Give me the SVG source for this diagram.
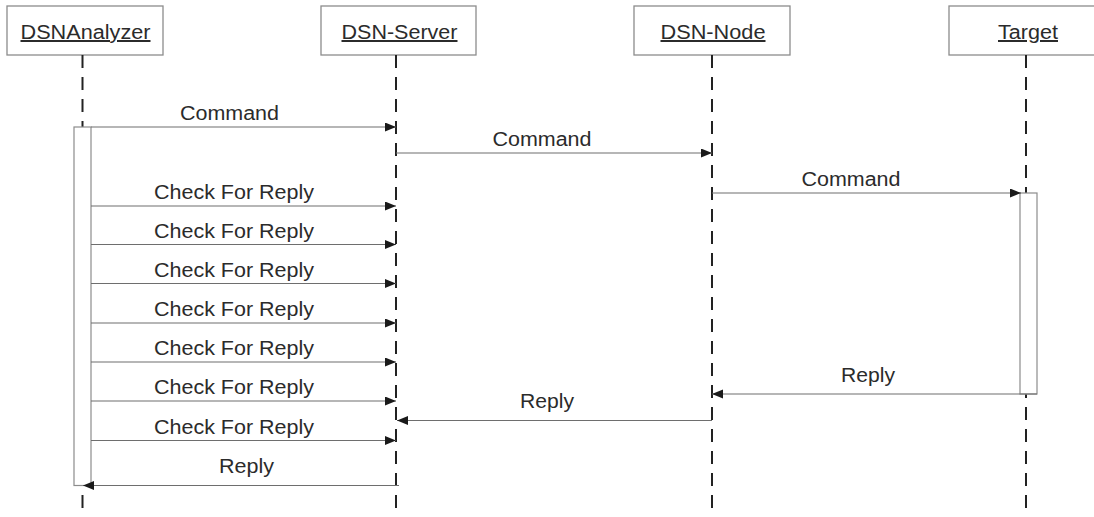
<svg xmlns="http://www.w3.org/2000/svg" width="1094" height="517" viewBox="0 0 1094 517">
<style>
.box{fill:#fff;stroke:#8c8c8c;stroke-width:1.3}
.life{stroke:#222;stroke-width:2;stroke-dasharray:13 9;fill:none}
.bar{fill:#fff;stroke:#8c8c8c;stroke-width:1.2}
.title{font-family:"Liberation Sans",Arial,sans-serif;font-size:20px;fill:#2b2b2b;text-anchor:middle;text-decoration:underline}
.lbl{font-family:"Liberation Sans",Arial,sans-serif;font-size:20px;fill:#2b2b2b;text-anchor:middle}
.msg{stroke:#6e6e6e;stroke-width:1.2;fill:none;marker-end:url(#ah)}
</style>
<defs>
<marker id="ah" markerUnits="userSpaceOnUse" markerWidth="12" markerHeight="10" refX="11" refY="4.5" orient="auto">
<path d="M0,0 L11,4.5 L0,9 z" fill="#1a1a1a"/>
</marker>
</defs>
<rect width="1094" height="517" fill="#fff"/>
<g id="DSNAnalyzer">
<rect class="box" x="7" y="6" width="156" height="49"/>
<text class="title" x="85.5" y="39" textLength="130" lengthAdjust="spacingAndGlyphs">DSNAnalyzer</text>
<line class="life" x1="82.5" y1="55" x2="82.5" y2="517"/>
<rect class="bar" x="74" y="127" width="17" height="358.5"/>
</g>
<g id="DSN-Server">
<rect class="box" x="321" y="6" width="155" height="49"/>
<text class="title" x="399.5" y="39" textLength="116" lengthAdjust="spacingAndGlyphs">DSN-Server</text>
<line class="life" x1="396" y1="55" x2="396" y2="517"/>
</g>
<g id="DSN-Node">
<rect class="box" x="634" y="6" width="156" height="49"/>
<text class="title" x="713" y="39" textLength="105" lengthAdjust="spacingAndGlyphs">DSN-Node</text>
<line class="life" x1="712" y1="55" x2="712" y2="517"/>
</g>
<g id="Target">
<rect class="box" x="949" y="6" width="160" height="49"/>
<text class="title" x="1028" y="39" textLength="60" lengthAdjust="spacingAndGlyphs">Target</text>
<line class="life" x1="1026" y1="55" x2="1026" y2="517"/>
<rect class="bar" x="1020" y="193" width="17" height="201"/>
</g>
<g id="connectors">
<line class="msg" x1="91" y1="127" x2="396" y2="127"/>
<text class="lbl" x="229.5" y="120" textLength="99" lengthAdjust="spacingAndGlyphs">Command</text>
<line class="msg" x1="396" y1="153" x2="712" y2="153"/>
<text class="lbl" x="542" y="146" textLength="99" lengthAdjust="spacingAndGlyphs">Command</text>
<line class="msg" x1="712" y1="193" x2="1021" y2="193"/>
<text class="lbl" x="851" y="185.5" textLength="99" lengthAdjust="spacingAndGlyphs">Command</text>
<line class="msg" x1="91" y1="206" x2="396" y2="206"/>
<text class="lbl" x="234" y="199" textLength="160" lengthAdjust="spacingAndGlyphs">Check For Reply</text>
<line class="msg" x1="91" y1="244.5" x2="396" y2="244.5"/>
<text class="lbl" x="234" y="237.5" textLength="160" lengthAdjust="spacingAndGlyphs">Check For Reply</text>
<line class="msg" x1="91" y1="283.5" x2="396" y2="283.5"/>
<text class="lbl" x="234" y="276.5" textLength="160" lengthAdjust="spacingAndGlyphs">Check For Reply</text>
<line class="msg" x1="91" y1="323" x2="396" y2="323"/>
<text class="lbl" x="234" y="316" textLength="160" lengthAdjust="spacingAndGlyphs">Check For Reply</text>
<line class="msg" x1="91" y1="362" x2="396" y2="362"/>
<text class="lbl" x="234" y="355" textLength="160" lengthAdjust="spacingAndGlyphs">Check For Reply</text>
<line class="msg" x1="91" y1="401" x2="396" y2="401"/>
<text class="lbl" x="234" y="394" textLength="160" lengthAdjust="spacingAndGlyphs">Check For Reply</text>
<line class="msg" x1="91" y1="440.5" x2="396" y2="440.5"/>
<text class="lbl" x="234" y="433.5" textLength="160" lengthAdjust="spacingAndGlyphs">Check For Reply</text>
<line class="msg" x1="1037" y1="394" x2="712" y2="394"/>
<text class="lbl" x="868" y="382" textLength="54" lengthAdjust="spacingAndGlyphs">Reply</text>
<line class="msg" x1="712" y1="420.5" x2="397" y2="420.5"/>
<text class="lbl" x="547" y="408" textLength="54" lengthAdjust="spacingAndGlyphs">Reply</text>
<line class="msg" x1="399" y1="485.5" x2="83" y2="485.5"/>
<text class="lbl" x="246.5" y="473" textLength="55" lengthAdjust="spacingAndGlyphs">Reply</text>
</g>
</svg>
